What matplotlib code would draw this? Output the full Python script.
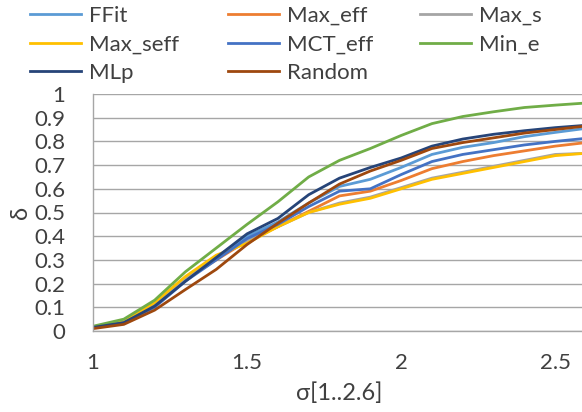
import numpy as np
import matplotlib.pyplot as plt

plt.rcParams['font.family'] = ['Lato', 'DejaVu Sans']

sigma = [1.0, 1.1, 1.2, 1.3, 1.4, 1.5, 1.6, 1.7, 1.8, 1.9, 2.0, 2.1, 2.2, 2.3, 2.4, 2.5, 2.6]

ffit     = [0.015, 0.040, 0.110, 0.220, 0.310, 0.400, 0.460, 0.540, 0.610, 0.640, 0.690, 0.745, 0.775, 0.795, 0.820, 0.838, 0.855]
max_eff  = [0.015, 0.040, 0.110, 0.220, 0.300, 0.380, 0.440, 0.505, 0.570, 0.590, 0.635, 0.685, 0.715, 0.740, 0.760, 0.780, 0.795]
max_s    = [0.015, 0.040, 0.110, 0.220, 0.310, 0.380, 0.440, 0.500, 0.540, 0.565, 0.605, 0.645, 0.670, 0.695, 0.720, 0.745, 0.750]
max_seff = [0.015, 0.040, 0.120, 0.230, 0.320, 0.370, 0.440, 0.500, 0.535, 0.560, 0.600, 0.640, 0.665, 0.690, 0.715, 0.740, 0.750]
mct_eff  = [0.015, 0.035, 0.100, 0.210, 0.300, 0.390, 0.450, 0.525, 0.590, 0.600, 0.660, 0.715, 0.745, 0.765, 0.785, 0.800, 0.813]
min_e    = [0.020, 0.050, 0.130, 0.250, 0.350, 0.450, 0.545, 0.650, 0.720, 0.770, 0.825, 0.875, 0.905, 0.925, 0.943, 0.953, 0.962]
mlp      = [0.015, 0.035, 0.105, 0.210, 0.310, 0.410, 0.475, 0.575, 0.645, 0.690, 0.730, 0.780, 0.810, 0.830, 0.845, 0.858, 0.868]
random_  = [0.010, 0.028, 0.088, 0.175, 0.260, 0.365, 0.455, 0.540, 0.620, 0.675, 0.720, 0.770, 0.795, 0.815, 0.835, 0.850, 0.865]

series = [
    ("FFit", ffit, '#5B9BD5'),
    ("Max_eff", max_eff, '#ED7D31'),
    ("Max_s", max_s, '#A5A5A5'),
    ("Max_seff", max_seff, '#FFC000'),
    ("MCT_eff", mct_eff, '#4472C4'),
    ("Min_e", min_e, '#70AD47'),
    ("MLp", mlp, '#264478'),
    ("Random", random_, '#9E480E'),
]

fig = plt.figure(figsize=(5.82, 4.12), dpi=100)
ax = fig.add_axes([93/582, 1 - 331/412, (586 - 93)/582, (331 - 94)/412])

handles = {}
for name, vals, col in series:
    p, = ax.plot(sigma, vals, color=col, linewidth=2.0, label=name)
    handles[name] = p

ax.set_xlim(1.0, 2.6)
ax.set_ylim(0, 1)
ax.set_xticks([1, 1.5, 2, 2.5])
ax.set_xticklabels(['1', '1.5', '2', '2.5'])
ax.set_yticks(np.round(np.arange(0, 1.01, 0.1), 1))
ax.set_yticklabels(['0', '0.1', '0.2', '0.3', '0.4', '0.5', '0.6', '0.7', '0.8', '0.9', '1'])
ax.tick_params(axis='both', length=0, labelsize=16, colors='#404040')
ax.tick_params(axis='y', pad=20)
ax.tick_params(axis='x', pad=16)
ax.grid(axis='y', color='#A6A6A6', linewidth=1.0)
ax.set_axisbelow(True)
for s in ['top', 'right']:
    ax.spines[s].set_visible(False)
for s in ['left', 'bottom']:
    ax.spines[s].set_color('#A6A6A6')
    ax.spines[s].set_linewidth(1.0)

ax.set_ylabel("δ", fontsize=17, color='#404040')
ax.set_xlabel("σ[1..2.6]", fontsize=17, color='#404040')
ax.yaxis.set_label_coords(-0.125, 0.5)
ax.xaxis.set_label_coords(0.5, -0.215)

cols = [(["FFit", "Max_seff", "MLp"], 30), (["Max_eff", "MCT_eff", "Random"], 228), (["Max_s", "Min_e"], 420)]
for names, x0 in cols:
    fig.legend([handles[n] for n in names], names, loc='upper left',
               bbox_to_anchor=(x0/582, 1 - 6/412), frameon=False, fontsize=16,
               handlelength=2.3, handletextpad=0.35, labelspacing=0.38,
               borderaxespad=0, borderpad=0, labelcolor='#404040')

fig.savefig("out.png", dpi=100)
